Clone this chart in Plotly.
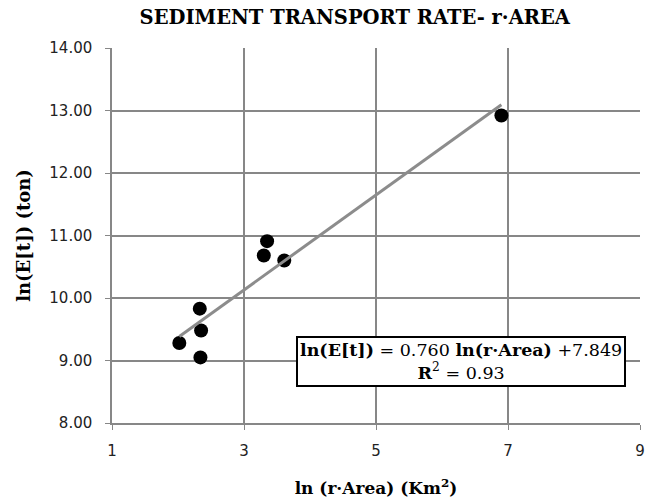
import plotly.graph_objects as go

# Data
x_vals = [2.02, 2.33, 2.35, 2.34, 3.30, 3.35, 3.61, 6.90]
y_vals = [9.28, 9.83, 9.48, 9.05, 10.68, 10.91, 10.60, 12.92]
slope = 0.760
intercept = 7.849
r2 = 0.93
x_ticks = [1, 3, 5, 7, 9]
y_ticks = [8, 9, 10, 11, 12, 13, 14]

xmin, xmax = min(x_vals), max(x_vals)
trend_x = [xmin, xmax]
trend_y = [slope * v + intercept for v in trend_x]

serif = "DejaVu Serif"
sans = "DejaVu Sans"
grid = "#878787"

fig = go.Figure()
fig.add_trace(go.Scatter(x=x_vals, y=y_vals, mode="markers",
                         marker=dict(color="black", size=14), showlegend=False))
fig.add_trace(go.Scatter(x=trend_x, y=trend_y, mode="lines",
                         line=dict(color="#8c8c8c", width=3), showlegend=False))

fig.update_layout(
    width=651, height=500,
    margin=dict(l=112, r=11, t=48, b=77),
    paper_bgcolor="white", plot_bgcolor="white",
    title=dict(text="<b>SEDIMENT TRANSPORT RATE- r·AREA</b>",
               x=0.545, xanchor="center", y=0.965, yanchor="middle",
               font=dict(family=serif, size=19.5, color="black")),
    xaxis=dict(range=[1, 9], tickvals=x_ticks, ticktext=[str(v) for v in x_ticks],
               showgrid=True, gridcolor=grid, gridwidth=1.5,
               showline=True, linecolor=grid, linewidth=1.5,
               ticks="outside", ticklen=5, tickcolor=grid,
               ticklabelstandoff=8, automargin=False,
               tickfont=dict(family=sans, size=15, color="#222"),
               zeroline=False,
               title=dict(text="<b>ln (r·Area) (Km<sup>2</sup>)</b>", standoff=23,
                          font=dict(family=serif, size=17, color="black"))),
    yaxis=dict(range=[8, 14], tickvals=y_ticks, ticktext=[f"{v:.2f}" for v in y_ticks],
               showgrid=True, gridcolor=grid, gridwidth=1.5,
               showline=True, linecolor=grid, linewidth=1.5,
               ticks="outside", ticklen=5, tickcolor=grid,
               ticklabelstandoff=10, automargin=False,
               tickfont=dict(family=sans, size=15, color="#222"),
               zeroline=False,
               title=dict(text="<b>ln(E[t]) (ton)</b>", standoff=14,
                          font=dict(family=serif, size=18, color="black"))),
)

fig.add_annotation(
    x=(461 - 112) / (651 - 112 - 11), y=1 - (361 - 48) / (500 - 48 - 77),
    xref="paper", yref="paper", xanchor="center", yanchor="middle",
    text=f"<b>ln(E[t])</b> = {slope:.3f} <b>ln(r·Area)</b> +{intercept:.3f}<br><b>R</b><sup>2</sup> = {r2:.2f}",
    showarrow=False, font=dict(family=serif, size=17.5, color="black"),
    bordercolor="black", borderwidth=2, borderpad=2, bgcolor="white", align="center",
)

fig.write_html("out.html")
